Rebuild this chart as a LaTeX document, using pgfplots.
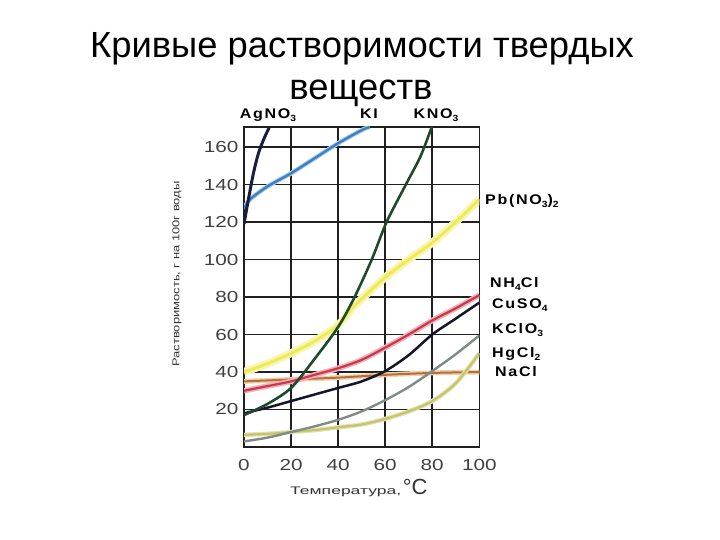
\documentclass[border=0pt]{standalone}
\usepackage{fontspec}
\setmainfont{Liberation Sans}
\newfontfamily\widef[FakeStretch=1.3]{Liberation Sans}
\newfontfamily\xlf[FakeStretch=1.6]{Liberation Sans}
\newfontfamily\labf[FakeStretch=1.15,LetterSpace=12]{Liberation Sans}
\usepackage{pgfplots}
\pgfplotsset{compat=1.18}
\definecolor{cAg}{HTML}{1C1C3C}
\definecolor{cKI}{HTML}{3D80C0}
\definecolor{cKN}{HTML}{1E4A2A}
\definecolor{cPb}{HTML}{EEEA5A}
\definecolor{cPbH}{HTML}{F8F6B0}
\definecolor{cNH}{HTML}{C83A4A}
\definecolor{cNHH}{HTML}{F2B0BC}
\definecolor{cCu}{HTML}{15152A}
\definecolor{cNa}{HTML}{B07040}
\definecolor{cNaH}{HTML}{F2CFA8}
\definecolor{cKCl}{HTML}{7F8C84}
\definecolor{cHg}{HTML}{C8C46A}
\definecolor{grid}{HTML}{202020}
\pgfplotstableread{
x y
0 119
1.8 131.6
4 146
6.1 156.5
8.2 163.6
10.8 170.7
}\tAg
\pgfplotstableread{
x y
0 127
2.5 132
10 139
20 146
30 154
40 162
50 169
53.5 170.7
}\tKI
\pgfplotstableread{
x y
0 17
10 23
20 31.5
30 47
40 64
47 80
54.3 100
60.6 120
69 140.5
75 155
79.8 170.7
}\tKN
\pgfplotstableread{
x y
0 40
10 44.5
20 50
30 56.5
40 65
46.5 75
50 79
60 90.5
70 100
80 109
90 120
100 132
}\tPb
\pgfplotstableread{
x y
0 30
10 32.5
20 35
30 38.5
40 42
50 46.5
60 53
70 60
80 67.5
90 74
100 81
}\tNH
\pgfplotstableread{
x y
0 18
10 21
20 24.5
30 28
40 31.5
50 35
60 40.5
70 49
80 60
90 68.5
100 77
}\tCu
\pgfplotstableread{
x y
0 35
20 36
40 37
60 38.5
80 39.5
100 40
}\tNa
\pgfplotstableread{
x y
0 3
10 5
20 8
30 11
40 14.5
50 19
60 25
70 32
80 40.5
90 49.5
100 59.5
}\tKCl
\pgfplotstableread{
x y
0 6.5
10 7
20 8
30 9
40 10.5
50 12
60 15
70 19
80 24.5
90 34
100 50
}\tHg
\newcommand{\sub}[1]{\raisebox{-3bp}{\fontsize{9}{9}\selectfont #1}}
\begin{document}
\begin{tikzpicture}
\useasboundingbox (0,0) rectangle (720bp,540bp);
\node[anchor=base, font=\fontsize{36.5}{40}\selectfont] at (362bp,482bp) {Кривые растворимости твердых};
\node[anchor=base, font=\fontsize{36.5}{40}\selectfont] at (361bp,440bp) {веществ};
\begin{axis}[
  at={(244bp,93bp)}, anchor=south west,
  scale only axis, width=235.3bp, height=320bp,
  xmin=0, xmax=100, ymin=0, ymax=170.7,
  xtick={0,20,...,100}, ytick={20,40,...,160},
  grid=major,
  major grid style={line width=1.6bp, color=grid},
  axis line style={line width=1.6bp, color=grid},
  tick style={draw=none},
  /pgf/number format/assume math mode=true,
  ticklabel style={font=\widef\fontsize{16}{18}\selectfont, text=black!75},
  xticklabel style={yshift=-9bp},
  yticklabel style={xshift=-2bp},
  every axis plot/.append style={smooth, no markers},
]
\addplot[cNaH, line width=5bp] table {\tNa};
\addplot[cNa, line width=2bp] table {\tNa};
\addplot[cPbH, line width=8bp] table {\tPb};
\addplot[cPb, line width=3bp] table {\tPb};
\addplot[cNHH, line width=5.5bp] table {\tNH};
\addplot[cNH, line width=2.2bp] table {\tNH};
\addplot[cHg!50, line width=4.5bp] table {\tHg};
\addplot[cHg, line width=2.2bp] table {\tHg};
\addplot[cKCl, line width=2.4bp] table {\tKCl};
\addplot[cCu, line width=2.5bp] table {\tCu};
\addplot[cKN, line width=2.6bp] table {\tKN};
\addplot[cKI!40, line width=4.5bp] table {\tKI};
\addplot[cKI, line width=2.4bp] table {\tKI};
\addplot[cAg, line width=3bp] table {\tAg};
\end{axis}
\begin{scope}[every node/.style={font=\labf\bfseries\fontsize{14}{16}\selectfont, text=black, inner sep=0pt}]
\node[anchor=center] at (268bp,425bp) {AgNO\sub{3}};
\node[anchor=center] at (369bp,426bp) {KI};
\node[anchor=center] at (436bp,425bp) {KNO\sub{3}};
\node[anchor=west] at (485bp,339bp) {Pb(NO\sub{3})\sub{2}};
\node[anchor=west] at (490bp,256bp) {NH\sub{4}Cl};
\node[anchor=west] at (492bp,235bp) {CuSO\sub{4}};
\node[anchor=west] at (492bp,210bp) {KClO\sub{3}};
\node[anchor=west] at (492bp,186bp) {HgCl\sub{2}};
\node[anchor=west] at (495bp,168bp) {NaCl};
\end{scope}
\node[rotate=90, anchor=center, font=\widef\fontsize{10}{12}\selectfont, text=black!80] at (177bp,266bp) {Растворимость, г на 100г воды};
\node[anchor=base west, inner sep=0pt, text=black!80] at (290bp,45bp) {{\xlf\fontsize{11}{12}\selectfont Температура,}\,{\fontsize{22}{24}\selectfont °C}};
\end{tikzpicture}
\end{document}
